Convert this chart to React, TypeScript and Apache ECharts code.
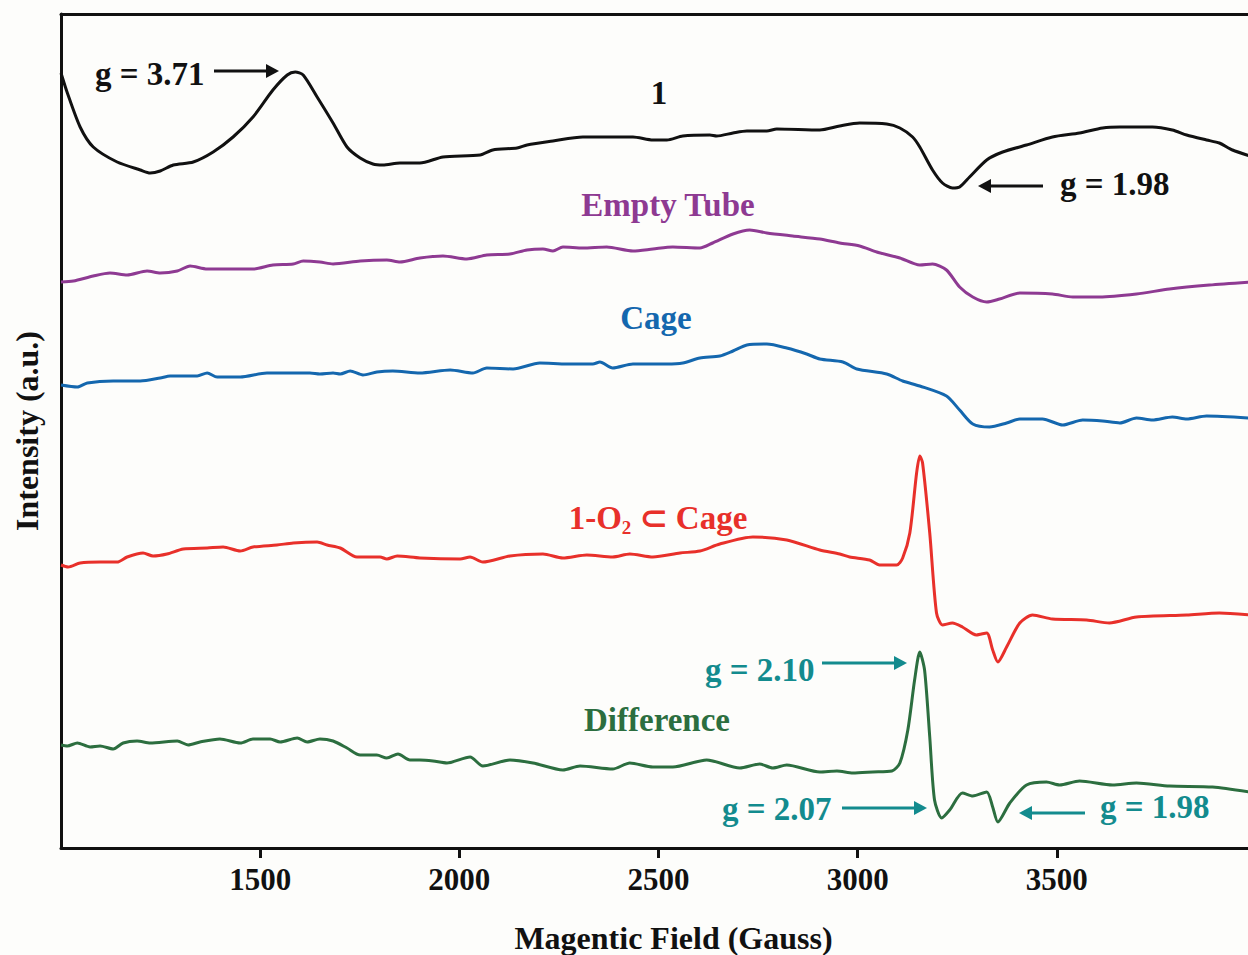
import React, { useEffect, useRef } from "react";
import * as echarts from "echarts";

// Field (Gauss), intensity (a.u., arbitrary offset per trace)
const sample1: number[][] = [
  [1000, 775], [1016, 755], [1048, 721], [1081, 701], [1141, 686], [1199, 678], [1224, 675], [1249, 677],
  [1282, 683], [1332, 686], [1382, 696], [1432, 711], [1482, 731], [1532, 758], [1568, 773], [1588, 776],
  [1608, 773], [1643, 751], [1683, 725], [1718, 701], [1751, 690], [1783, 684], [1808, 683], [1851, 685],
  [1901, 685], [1959, 691], [2052, 693], [2084, 698], [2145, 700], [2170, 703], [2235, 707], [2310, 711],
  [2396, 711], [2436, 711], [2486, 708], [2521, 708], [2561, 712], [2629, 713], [2646, 712], [2687, 715],
  [2722, 717], [2772, 717], [2797, 719], [2905, 718], [2955, 722], [3005, 725], [3073, 724], [3106, 720],
  [3138, 711], [3156, 701], [3188, 678], [3213, 665], [3238, 660], [3256, 661], [3281, 671], [3324, 688],
  [3364, 696], [3424, 703], [3489, 711], [3557, 715], [3615, 720], [3658, 721], [3740, 721], [3790, 718],
  [3826, 713], [3876, 708], [3908, 705], [3941, 698], [3985, 692],
];

const emptyTube: number[][] = [
  [1000, 566], [1031, 567], [1081, 572], [1123, 575], [1166, 573], [1216, 577], [1249, 575], [1292, 577],
  [1324, 582], [1367, 579], [1432, 579], [1482, 579], [1532, 583], [1583, 584], [1608, 587], [1650, 586],
  [1683, 584], [1751, 587], [1818, 588], [1851, 586], [1901, 590], [1959, 592], [2019, 589], [2069, 593],
  [2127, 594], [2170, 598], [2210, 599], [2235, 597], [2260, 601], [2310, 600], [2370, 601], [2436, 597],
  [2486, 599], [2536, 601], [2604, 600], [2636, 605], [2687, 614], [2729, 618], [2772, 615], [2837, 612],
  [2905, 609], [2955, 605], [3005, 602], [3048, 596], [3106, 590], [3156, 583], [3188, 584], [3223, 578],
  [3256, 561], [3289, 551], [3324, 546], [3356, 549], [3407, 555], [3489, 554], [3540, 551], [3607, 551],
  [3700, 554], [3783, 559], [3883, 563], [3985, 566],
];

const cage: number[][] = [
  [1000, 463], [1041, 461], [1066, 465], [1131, 467], [1199, 467], [1249, 470], [1274, 472], [1342, 472],
  [1367, 475], [1392, 471], [1450, 471], [1517, 475], [1568, 475], [1625, 475], [1650, 474], [1683, 475],
  [1701, 474], [1726, 477], [1758, 473], [1793, 476], [1833, 477], [1901, 475], [1977, 478], [2034, 475],
  [2069, 480], [2135, 479], [2202, 485], [2270, 484], [2335, 484], [2353, 486], [2385, 480], [2436, 484],
  [2521, 484], [2561, 485], [2604, 490], [2654, 492], [2687, 497], [2722, 503], [2772, 504], [2822, 500],
  [2872, 494], [2905, 489], [2963, 486], [2998, 479], [3073, 474], [3113, 467], [3156, 462], [3223, 452],
  [3256, 438], [3289, 424], [3331, 421], [3374, 425], [3407, 429], [3464, 429], [3515, 423], [3565, 428],
  [3615, 427], [3658, 425], [3700, 430], [3740, 428], [3790, 431], [3826, 429], [3876, 432], [3985, 430],
];

const o2Cage: number[][] = [
  [1000, 283], [1018, 281], [1048, 285], [1098, 286], [1141, 286], [1166, 291], [1206, 295], [1231, 292],
  [1266, 294], [1307, 299], [1367, 300], [1407, 301], [1450, 297], [1482, 301], [1542, 303], [1583, 305],
  [1643, 306], [1668, 303], [1701, 300], [1743, 291], [1801, 291], [1818, 289], [1844, 292], [1901, 290],
  [2002, 289], [2027, 291], [2059, 286], [2127, 292], [2210, 294], [2260, 290], [2320, 293], [2385, 291],
  [2428, 294], [2486, 291], [2554, 295], [2604, 297], [2654, 304], [2737, 311], [2822, 308], [2905, 298],
  [2955, 294], [2980, 291], [3030, 288], [3055, 283], [3098, 283], [3113, 290], [3131, 315], [3148, 375],
  [3156, 392], [3163, 385], [3181, 315], [3198, 235], [3213, 223], [3238, 225], [3263, 221], [3298, 213],
  [3324, 215], [3339, 198], [3352, 186], [3374, 201], [3407, 225], [3439, 233], [3489, 229], [3575, 228],
  [3632, 225], [3700, 231], [3826, 233], [3908, 235], [3985, 233],
];

const difference: number[][] = [
  [1000, 103], [1016, 102], [1041, 105], [1073, 101], [1098, 102], [1131, 99], [1156, 105], [1191, 107],
  [1224, 105], [1292, 107], [1319, 103], [1349, 106], [1399, 109], [1450, 105], [1482, 109], [1525, 109],
  [1550, 106], [1593, 110], [1618, 106], [1650, 109], [1683, 107], [1718, 100], [1751, 93], [1793, 93],
  [1818, 90], [1846, 94], [1876, 88], [1901, 88], [1934, 87], [1969, 85], [2027, 91], [2059, 82],
  [2127, 88], [2185, 85], [2260, 78], [2303, 82], [2385, 79], [2428, 85], [2486, 81], [2536, 81],
  [2621, 88], [2704, 80], [2754, 84], [2787, 80], [2822, 83], [2905, 76], [2948, 77], [2988, 75],
  [3038, 76], [3086, 77], [3106, 85], [3126, 118], [3143, 168], [3156, 196], [3168, 178], [3181, 111],
  [3193, 48], [3211, 30], [3231, 38], [3263, 55], [3289, 52], [3324, 56], [3339, 41], [3352, 26],
  [3382, 45], [3424, 63], [3474, 66], [3507, 63], [3557, 67], [3640, 63], [3700, 65], [3783, 62],
  [3891, 61], [3985, 56],
];

const seriesNames = ["1", "Empty Tube", "Cage", "1-O2 ⊂ Cage", "Difference"];
const seriesColors = ["#111111", "#8e3a92", "#1467ae", "#e8302a", "#2c6e3f"];
const xTicks = [1500, 2000, 2500, 3000, 3500];

const FONT = "'Liberation Serif', 'Times New Roman', serif";
const TEAL = "#138b8e";

function arrow(x1: number, x2: number, y: number, color: string) {
  const dir = x2 > x1 ? 1 : -1;
  const headLen = 13;
  return [
    {
      type: "line",
      shape: { x1, y1: y, x2: x2 - dir * headLen + dir * 1, y2: y },
      style: { stroke: color, lineWidth: 3 },
      silent: true,
    },
    {
      type: "polygon",
      shape: { points: [[x2, y], [x2 - dir * headLen, y - 7], [x2 - dir * headLen, y + 7]] },
      style: { fill: color },
      silent: true,
    },
  ];
}

function label(text: string, x: number, y: number, color: string, align: string = "center") {
  return {
    type: "text",
    x,
    y,
    style: {
      text,
      fill: color,
      font: `bold 33px ${FONT}`,
      align,
      verticalAlign: "middle",
    },
    silent: true,
  };
}

export default function App() {
  const ref = useRef<HTMLDivElement>(null);
  useEffect(() => {
    if (!ref.current) return;
    const chart = echarts.init(ref.current, null, { renderer: "svg" });
    const datasets = [sample1, emptyTube, cage, o2Cage, difference];
    chart.setOption({
      animation: false,
      backgroundColor: "#fdfdfb",
      grid: { left: 61, right: -2, top: 14, bottom: 107, outerBoundsMode: "none" },
      xAxis: [
        {
          type: "value",
          min: 1000,
          max: 3985,
          interval: 500,
          name: "Magentic Field (Gauss)",
          nameLocation: "middle",
          nameGap: 74,
          nameTextStyle: {
            fontFamily: FONT,
            fontWeight: "bold",
            fontSize: 32,
            color: "#111",
            padding: [0, 0, 0, 36],
          },
          axisLine: { show: true, lineStyle: { color: "#111", width: 3 } },
          axisTick: {
            show: true,
            inside: false,
            length: 10,
            lineStyle: { color: "#111", width: 3 },
          },
          axisLabel: {
            margin: 16,
            fontFamily: FONT,
            fontWeight: "bold",
            fontSize: 31,
            color: "#111",
            showMinLabel: false,
            formatter: (v: number) => (xTicks.indexOf(v) >= 0 ? String(v) : ""),
          },
          splitLine: { show: false },
        },
        {
          type: "value",
          position: "top",
          min: 1000,
          max: 3985,
          axisLine: { show: true, lineStyle: { color: "#111", width: 3 } },
          axisTick: { show: false },
          axisLabel: { show: false },
          splitLine: { show: false },
        },
      ],
      yAxis: {
        type: "value",
        min: 0,
        max: 834,
        name: "Intensity (a.u.)",
        nameLocation: "middle",
        nameGap: 18,
        nameRotate: 90,
        nameTextStyle: { fontFamily: FONT, fontWeight: "bold", fontSize: 32, color: "#111" },
        axisLine: { show: true, lineStyle: { color: "#111", width: 3 } },
        axisTick: { show: false },
        axisLabel: { show: false },
        splitLine: { show: false },
      },
      series: datasets.map((d, i) => ({
        name: seriesNames[i],
        type: "line",
        data: d,
        showSymbol: false,
        smooth: 0.25,
        lineStyle: { color: seriesColors[i], width: 3 },
        itemStyle: { color: seriesColors[i] },
        z: 3,
      })),
      graphic: [
        label("g = 3.71", 95, 74, "#111", "left"),
        ...arrow(214, 279, 71, "#111"),
        label("1", 659, 93, "#111"),
        label("Empty Tube", 668, 205, seriesColors[1]),
        label("g = 1.98", 1060, 184, "#111", "left"),
        ...arrow(1043, 978, 186, "#111"),
        label("Cage", 656, 318, seriesColors[2]),
        {
          type: "text",
          x: 658,
          y: 518,
          style: {
            text: "{a|1-O}{s|2}{a| ⊂ Cage}",
            align: "center",
            verticalAlign: "middle",
            rich: {
              a: { font: `bold 33px ${FONT}`, fill: seriesColors[3] },
              s: { font: `bold 19px ${FONT}`, fill: seriesColors[3], padding: [18, 0, 0, 0] },
            },
          },
          silent: true,
        },
        label("g = 2.10", 705, 670, TEAL, "left"),
        ...arrow(822, 907, 663, TEAL),
        label("Difference", 657, 720, seriesColors[4]),
        label("g = 2.07", 722, 809, TEAL, "left"),
        ...arrow(842, 927, 808, TEAL),
        label("g = 1.98", 1100, 807, TEAL, "left"),
        ...arrow(1085, 1019, 813, TEAL),
      ],
    });
    return () => chart.dispose();
  }, []);
  return (
    <div
      ref={ref}
      style={{ position: "absolute", left: 0, top: 0, width: 1248, height: 955 }}
    />
  );
}
